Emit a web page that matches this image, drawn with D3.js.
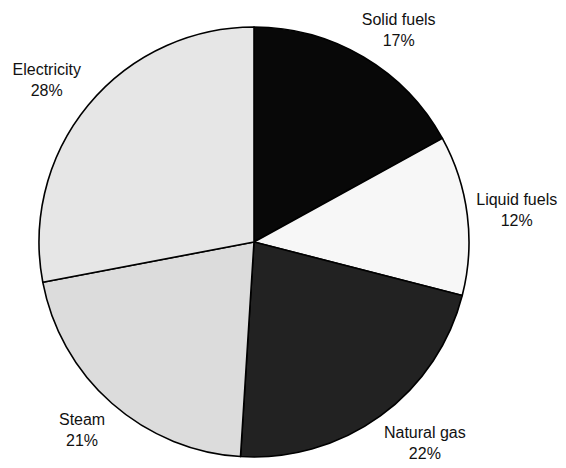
<!DOCTYPE html>
<html>
<head>
<meta charset="utf-8">
<script src="https://cdn.jsdelivr.net/npm/d3@7"></script>
<style>
  html, body { margin: 0; padding: 0; background: #fff; }
  svg { display: block; }
  text { font-family: "Liberation Sans", Arial, sans-serif; font-size: 16px; fill: #111; }
</style>
</head>
<body>
<svg id="chart" width="566" height="468"></svg>
<script>
// Energy consumption shares by fuel type (percent)
const categories = ["Solid fuels", "Liquid fuels", "Natural gas", "Steam", "Electricity"];
const shares = [17, 12, 22, 21, 28];
const fills = ["#080808", "#f7f7f7", "#222222", "#dcdcdc", "#e6e6e6"];

const width = 566, height = 468;
const cx = 254, cy = 242, radius = 215;

const svg = d3.select("#chart");
const g = svg.append("g").attr("transform", `translate(${cx},${cy})`);

const data = categories.map((name, i) => ({ name, value: shares[i], fill: fills[i] }));

const pie = d3.pie().value(d => d.value).sort(null);
const arc = d3.arc().innerRadius(0).outerRadius(radius);
const arcs = pie(data);

g.selectAll("path.slice")
  .data(arcs)
  .join("path")
  .attr("class", "slice")
  .attr("d", arc)
  .attr("fill", d => d.data.fill)
  .attr("stroke", "#000")
  .attr("stroke-width", 1.6)
  .attr("stroke-linejoin", "round");

// Two-line labels placed outside each slice, box pushed away from the rim
const lineGap = 21;
const labelR = radius + 7;
const clamp = v => Math.max(-1, Math.min(1, v));

arcs.forEach(a => {
  const mid = (a.startAngle + a.endAngle) / 2;
  const s = Math.sin(mid), c = Math.cos(mid);
  const t = g.append("text").attr("text-anchor", "middle");
  const l1 = t.append("tspan").text(a.data.name);
  const l2 = t.append("tspan").text(d3.format("d")(a.data.value) + "%");
  const w = Math.max(l1.node().getComputedTextLength(), l2.node().getComputedTextLength());
  const halfW = w / 2 + 2, halfH = lineGap;
  const bx = labelR * s + halfW * clamp(s * 1.6);
  const by = -labelR * c + halfH * clamp(-c * 1.6);
  l1.attr("x", bx).attr("y", by - lineGap / 2 + 5.7);
  l2.attr("x", bx).attr("y", by + lineGap / 2 + 5.7);
});
</script>
</body>
</html>
